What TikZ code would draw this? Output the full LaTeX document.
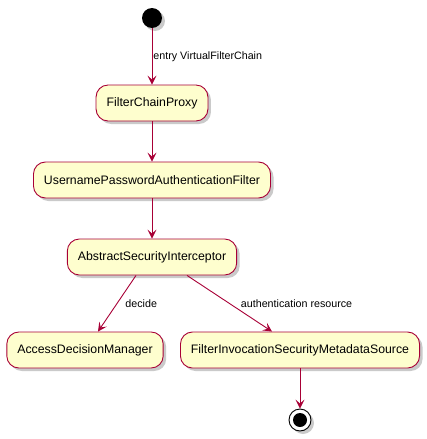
\documentclass[tikz,border=0pt]{standalone}
\usepackage{fontspec}
\setmainfont{Liberation Sans}
\usetikzlibrary{arrows.meta,shadows}
\definecolor{umlfill}{HTML}{FEFECE}
\definecolor{umlline}{HTML}{A80036}
\tikzset{
  actbox/.style={draw=umlline, line width=0.9pt, fill=umlfill, rounded corners=12pt,
                 inner xsep=10.5pt, minimum height=36pt, align=center, text=black,
                 font=\fontsize{12.3}{14}\selectfont,
                 drop shadow={shadow xshift=3pt, shadow yshift=-3pt, fill=black!35, opacity=0.6}},
  startdot/.style={circle, fill=black, minimum size=20pt, inner sep=0pt,
                   drop shadow={shadow xshift=3pt, shadow yshift=-3pt, fill=black!35, opacity=0.6}},
  enddot/.style={circle, draw=black, line width=0.9pt, fill=white, minimum size=22pt, inner sep=0pt,
                 drop shadow={shadow xshift=3pt, shadow yshift=-3pt, fill=black!35, opacity=0.6}},
  flow/.style={-{Stealth[length=9pt, width=9pt, inset=4pt]}, line width=0.9pt, color=umlline},
  lbl/.style={font=\fontsize{10.7}{12}\selectfont, text=black, inner sep=1pt}}
\begin{document}
\begin{tikzpicture}[x=1pt, y=-1pt]
  \useasboundingbox (0,0) rectangle (427,439);
  \node[startdot] (start) at (152,18) {};
  \node[actbox] (proxy) at (152,103) {FilterChainProxy};
  \node[actbox] (upaf) at (152,180) {UsernamePasswordAuthenticationFilter};
  \node[actbox] (asi) at (152,257) {AbstractSecurityInterceptor};
  \node[actbox] (adm) at (85,350) {AccessDecisionManager};
  \node[actbox] (fims) at (300,350) {FilterInvocationSecurityMetadataSource};
  \node[enddot] (stop) at (300,420) {};
  \fill[black] (stop.center) circle (7pt);

  \draw[flow] (start) -- node[lbl, right, midway] {entry VirtualFilterChain} (proxy);
  \draw[flow] (proxy) -- (upaf);
  \draw[flow] (upaf) -- (asi);
  \draw[flow] ([xshift=-16pt]asi.south) -- node[lbl, right=7pt, midway] {decide} ([xshift=13pt]adm.north);
  \draw[flow] ([xshift=35pt]asi.south) -- node[lbl, right=10pt, midway] {authentication resource} ([xshift=-28pt]fims.north);
  \draw[flow] (fims) -- (stop);
\end{tikzpicture}
\end{document}
